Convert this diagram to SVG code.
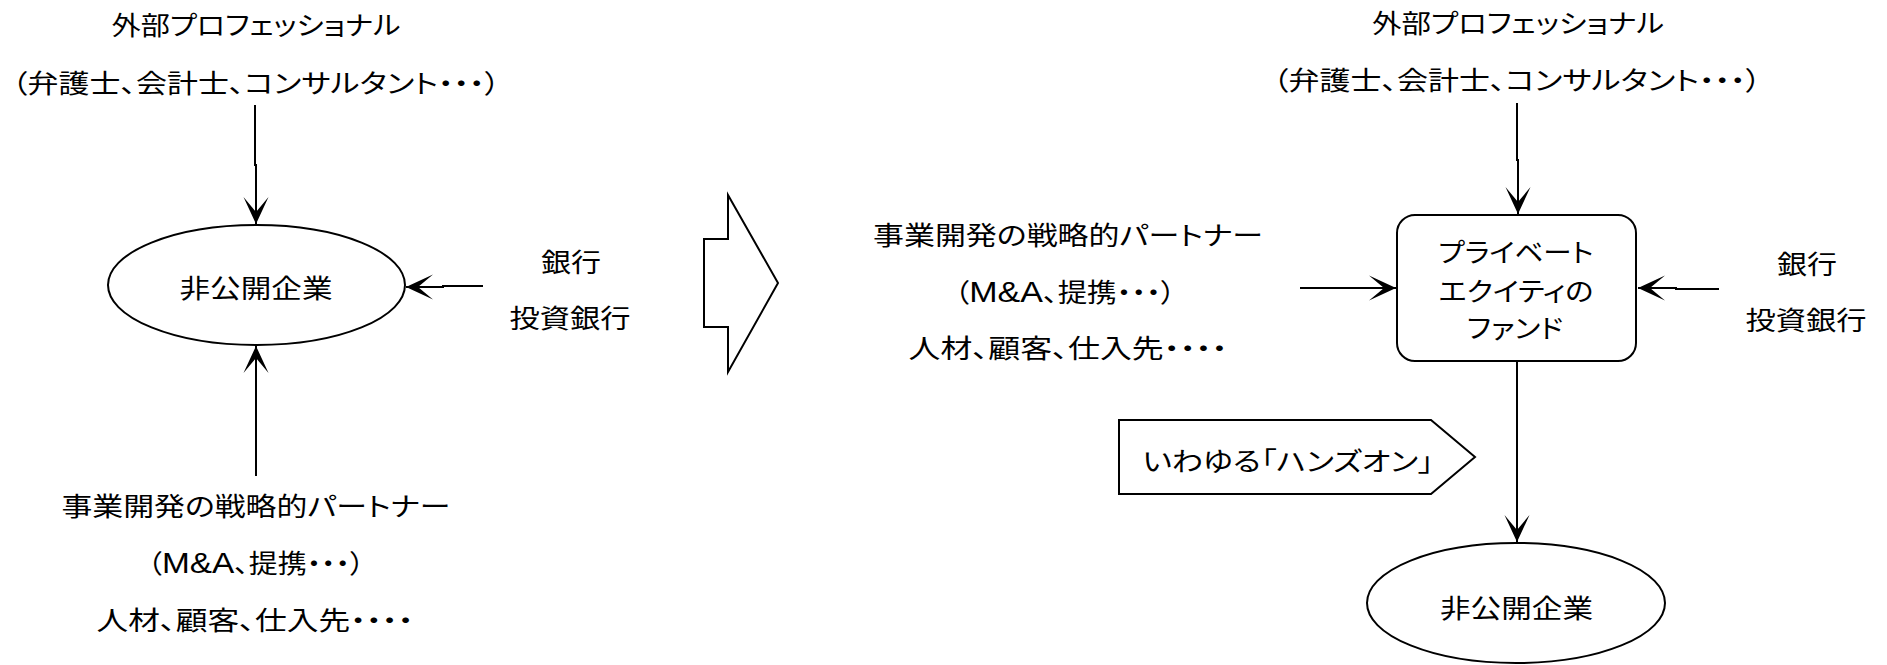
<svg xmlns="http://www.w3.org/2000/svg" width="1887" height="665" viewBox="0 0 1887 665">
<style>
text{font-family:"Liberation Sans","Noto Sans CJK JP",sans-serif;font-size:26px;fill:#000;text-anchor:middle;font-feature-settings:"palt"}
.lat{font-size:30px}
.shape{fill:#fff;stroke:#000;stroke-width:2}
.conn{fill:none;stroke:#000;stroke-width:2}
</style>
<defs>
<marker id="ah" viewBox="-28 -13 29 26" refX="0" refY="0" markerWidth="29" markerHeight="26" markerUnits="userSpaceOnUse" orient="auto">
<path d="M0,0 L-27,-12.5 L-12,0 L-27,12.5 Z" fill="#000"/>
</marker>
</defs>
<rect width="1887" height="665" fill="#fff"/>

<g id="connectors">
<path class="conn" d="M255,105 V165 H256 V224" marker-end="url(#ah)"/>
<path class="conn" d="M483,286 H443 V287 H406" marker-end="url(#ah)"/>
<path class="conn" d="M256,476 V346" marker-end="url(#ah)"/>
<path class="conn" d="M1517,103 V160 H1518 V214" marker-end="url(#ah)"/>
<path class="conn" d="M1300,288 H1396" marker-end="url(#ah)"/>
<path class="conn" d="M1719,289 H1676 V288 H1638" marker-end="url(#ah)"/>
<path class="conn" d="M1517,362 V542" marker-end="url(#ah)"/>
</g>

<g id="left-pro">
<text x="256" y="35" textLength="289" lengthAdjust="spacingAndGlyphs">外部プロフェッショナル</text>
<text x="256" y="93" textLength="488" lengthAdjust="spacingAndGlyphs">（弁護士、会計士、コンサルタント・・・）</text>
</g>
<g id="left-company">
<ellipse class="shape" cx="256.5" cy="285" rx="148.5" ry="60"/>
<text x="256" y="298" textLength="153" lengthAdjust="spacingAndGlyphs">非公開企業</text>
</g>
<g id="left-bank">
<text x="571" y="272" textLength="60" lengthAdjust="spacingAndGlyphs">銀行</text>
<text x="570" y="328" textLength="121" lengthAdjust="spacingAndGlyphs">投資銀行</text>
</g>
<g id="left-partner">
<text x="256" y="516" textLength="389" lengthAdjust="spacingAndGlyphs">事業開発の戦略的パートナー</text>
<text x="256" y="573" textLength="217" lengthAdjust="spacingAndGlyphs">（<tspan class="lat">M&amp;A</tspan>、提携・・・）</text>
<text x="255" y="630" textLength="317" lengthAdjust="spacingAndGlyphs">人材、顧客、仕入先・・・・</text>
</g>

<g id="transition-arrow">
<polygon class="shape" points="728,195 778,283 728,372 728,327 704,327 704,239 728,239"/>
</g>

<g id="right-partner">
<text x="1068" y="245" textLength="390" lengthAdjust="spacingAndGlyphs">事業開発の戦略的パートナー</text>
<text x="1065" y="302" textLength="221" lengthAdjust="spacingAndGlyphs">（<tspan class="lat">M&amp;A</tspan>、提携・・・）</text>
<text x="1068" y="358" textLength="319" lengthAdjust="spacingAndGlyphs">人材、顧客、仕入先・・・・</text>
</g>
<g id="right-pro">
<text x="1518" y="33" textLength="292" lengthAdjust="spacingAndGlyphs">外部プロフェッショナル</text>
<text x="1517" y="90" textLength="488" lengthAdjust="spacingAndGlyphs">（弁護士、会計士、コンサルタント・・・）</text>
</g>
<g id="pe-fund">
<rect class="shape" x="1397" y="215" width="239" height="146" rx="18" ry="18"/>
<text x="1516" y="262" textLength="155" lengthAdjust="spacingAndGlyphs">プライベート</text>
<text x="1516" y="301" textLength="155" lengthAdjust="spacingAndGlyphs">エクイティの</text>
<text x="1515" y="338" textLength="96" lengthAdjust="spacingAndGlyphs">ファンド</text>
</g>
<g id="right-bank">
<text x="1807" y="274" textLength="60" lengthAdjust="spacingAndGlyphs">銀行</text>
<text x="1806" y="330" textLength="121" lengthAdjust="spacingAndGlyphs">投資銀行</text>
</g>
<g id="hands-on">
<polygon class="shape" points="1119,420 1431,420 1475,457 1431,494 1119,494"/>
<text x="1288" y="471" textLength="291" lengthAdjust="spacingAndGlyphs">いわゆる「ハンズオン」</text>
</g>
<g id="right-company">
<ellipse class="shape" cx="1516" cy="603" rx="149" ry="60"/>
<text x="1516.5" y="618" textLength="153" lengthAdjust="spacingAndGlyphs">非公開企業</text>
</g>
</svg>
